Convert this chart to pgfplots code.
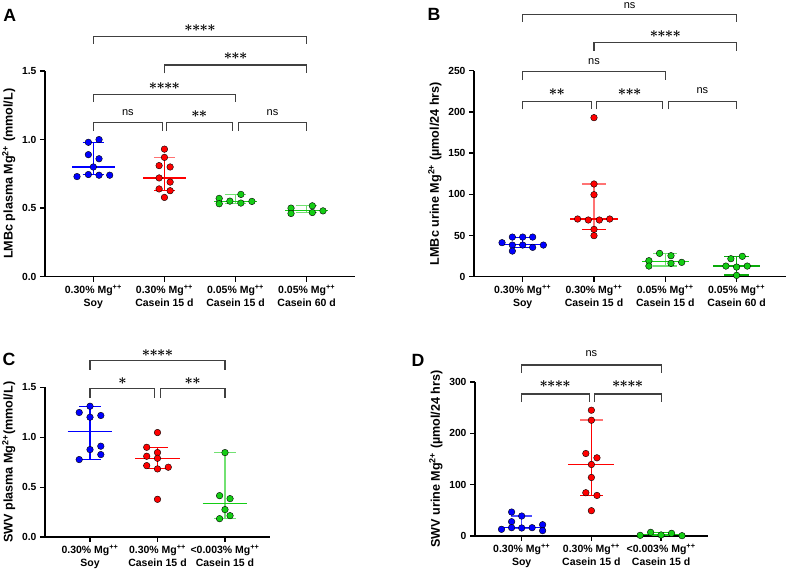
\documentclass[border=0pt]{standalone}
\usepackage{pgfplots}
\pgfplotsset{compat=1.18}
\usepackage{fontspec}
\setmainfont{Liberation Sans}

\definecolor{pblue}{RGB}{0,0,255}
\definecolor{pred}{RGB}{255,0,0}
\definecolor{pgreen}{RGB}{20,205,20}
\definecolor{pdgreen}{RGB}{10,170,10}

\newcommand{\as}{\makebox[7.6pt]{\fontsize{14}{14}\selectfont\boldmath$\ast$}}
\newcommand{\sone}{\as}
\newcommand{\stwo}{\as\as}
\newcommand{\sthree}{\as\as\as}
\newcommand{\sfour}{\as\as\as\as}
\newcommand{\mgpp}{Mg\textsuperscript{++}}

\pgfplotsset{
  prism/.style={
    scale only axis,
    anchor=south west,
    axis lines=left,
    axis line style={-, line width=1.6pt},
    tick style={black, line width=1.3pt},
    major tick length=5pt,
    tick align=outside,
    clip=false,
    ymin=0,
    unbounded coords=jump,
    xtick={0,1,2,3},
    xticklabel style={font=\bfseries\fontsize{10.5}{13}\selectfont, align=center},
    yticklabel style={font=\bfseries\fontsize{10.3}{11}\selectfont},
    /pgf/number format/assume math mode=true,
    ylabel style={font=\bfseries\fontsize{12.6}{13}\selectfont},
  },
  dots/.style={only marks, mark=*, mark size=3.3pt, draw=none, fill=#1, forget plot},
  summ/.style={draw=#1, line width=1.1pt, no marks, forget plot},
  brk/.style={black!75, line width=1.2pt, no marks, forget plot},
}
\tikzset{sig/.style={font=\fontsize{11}{11}\selectfont, inner sep=0pt}}

\begin{document}
\begin{tikzpicture}
\useasboundingbox (0,0) rectangle (787pt,569pt);

% ---------------- A
\begin{axis}[prism, at={(45pt,292.3pt)}, width=310pt, height=205.7pt,
  xmin=-0.68, xmax=3.68, ymax=1.5, ytick={0,0.5,1,1.5},
  yticklabel style={/pgf/number format/.cd, fixed, fixed zerofill, precision=1},
  xticklabels={{0.30\% \mgpp\\Soy},{0.30\% \mgpp\\Casein 15 d},{0.05\% \mgpp\\Casein 15 d},{0.05\% \mgpp\\Casein 60 d}},
  ylabel={LMBc plasma Mg\textsuperscript{2+} (mmol/L)}]
\addplot[dots=pblue] coordinates {(-0.07,0.98) (0.08,1.00) (-0.07,0.89) (0.08,0.86) (0,0.80) (-0.23,0.73) (-0.07,0.745) (0.08,0.74) (0.23,0.74)};
\addplot[summ=pblue] coordinates {(-0.3,0.80) (0.3,0.80) (nan,nan) (-0.15,0.745) (0.15,0.745) (nan,nan) (-0.15,0.98) (0.15,0.98) (nan,nan) (0,0.745) (0,0.98)};
\addplot[dots=pred] coordinates {(1,0.93) (1,0.87) (0.925,0.81) (1.08,0.80) (0.925,0.72) (1.08,0.69) (0.925,0.64) (1.08,0.627) (1,0.578)};
\addplot[summ=pred] coordinates {(0.7,0.72) (1.3,0.72) (nan,nan) (0.85,0.63) (1.15,0.63) (nan,nan) (1,0.63) (1,0.87)};
\addplot[summ=pred!55] coordinates {(0.85,0.87) (1.15,0.87)};
\addplot[dots=pgreen] coordinates {(1.77,0.571) (1.77,0.532) (1.92,0.551) (2.075,0.60) (2.075,0.537) (2.23,0.549)};
\addplot[summ=pgreen!60] coordinates {(1.85,0.535) (2.15,0.535) (nan,nan) (1.85,0.60) (2.15,0.60) (nan,nan) (2,0.535) (2,0.60)};
\addplot[summ=pgreen] coordinates {(1.7,0.55) (2.3,0.55)};
\addplot[dots=pgreen] coordinates {(2.78,0.50) (2.78,0.461) (3.08,0.517) (3.08,0.468) (3.23,0.48)};
\addplot[summ=pgreen!60] coordinates {(2.85,0.47) (3.15,0.47) (nan,nan) (2.85,0.52) (3.15,0.52) (nan,nan) (3,0.47) (3,0.52)};
\addplot[summ=pgreen] coordinates {(2.7,0.48) (3.3,0.48)};
% significance brackets
\addplot[brk] coordinates {(0,1.70) (0,1.75) (3,1.75) (3,1.70)};
\addplot[brk] coordinates {(1,1.483) (1,1.544) (3,1.544) (3,1.483)};
\addplot[brk] coordinates {(0,1.273) (0,1.329) (2,1.329) (2,1.273)};
\addplot[brk] coordinates {(0,1.061) (0,1.122) (0.97,1.122) (0.97,1.061)};
\addplot[brk] coordinates {(1.03,1.061) (1.03,1.122) (1.955,1.122) (1.955,1.061)};
\addplot[brk] coordinates {(2.04,1.061) (2.04,1.122) (3,1.122) (3,1.061)};
\node[sig] at (axis cs:1.5,1.815) {\sfour};
\node[sig] at (axis cs:2,1.607) {\sthree};
\node[sig] at (axis cs:1,1.392) {\sfour};
\node[sig] at (axis cs:0.485,1.195) {ns};
\node[sig] at (axis cs:1.49,1.185) {\stwo};
\node[sig] at (axis cs:2.52,1.195) {ns};
\end{axis}

% ---------------- B
\begin{axis}[prism, at={(474pt,292.3pt)}, width=312pt, height=206pt,
  xmin=-0.683, xmax=3.693, ymax=250, ytick={0,50,100,150,200,250},
  xticklabels={{0.30\% \mgpp\\Soy},{0.30\% \mgpp\\Casein 15 d},{0.05\% \mgpp\\Casein 15 d},{0.05\% \mgpp\\Casein 60 d}},
  ylabel={LMBc urine Mg\textsuperscript{2+} (µmol/24 hrs)}]
\addplot[dots=pblue] coordinates {(-0.29,41.3) (-0.145,48.1) (0,48.1) (0.14,48.1) (-0.145,38.4) (0,38.4) (0.14,35.6) (0.29,38.4) (-0.145,31.1)};
\addplot[summ=pblue] coordinates {(-0.33,39.0) (0.33,39.0) (nan,nan) (-0.15,35.8) (0.15,35.8) (nan,nan) (-0.15,48) (0.15,48) (nan,nan) (0,35.8) (0,48)};
\addplot[summ=pred!55] coordinates {(0.83,112.5) (1.17,112.5) (nan,nan) (1,57.4) (1,112.5)};
\addplot[dots=pred] coordinates {(1,193) (1,112.5) (1,99.5) (0.77,70) (0.92,68.8) (1.075,68.8) (1.22,70) (1,57.4) (1,49.8)};
\addplot[summ=pred] coordinates {(0.67,70) (1.33,70) (nan,nan) (0.83,57.4) (1.17,57.4)};
\addplot[summ=pgreen!60] coordinates {(1.83,13) (2.17,13) (nan,nan) (1.83,28) (2.17,28) (nan,nan) (2,13) (2,28)};
\addplot[dots=pgreen] coordinates {(1.92,28.3) (2.08,25.5) (1.77,19.4) (2.08,16.2) (2.23,17.4) (1.77,12.9)};
\addplot[summ=pgreen] coordinates {(1.67,18.5) (2.33,18.5)};
\addplot[summ=pdgreen] coordinates {(2.83,2) (3.17,2) (nan,nan) (2.83,24.5) (3.17,24.5) (nan,nan) (3,2) (3,24.5)};
\addplot[dots=pgreen] coordinates {(2.92,21.8) (3.08,24.7) (2.85,12.9) (3,11.7) (3.15,12.9) (3,1.6)};
\addplot[summ=pdgreen] coordinates {(2.67,13) (3.33,13)};
% significance brackets
\addplot[brk] coordinates {(0,309.5) (0,318.4) (3,318.4) (3,309.5)};
\addplot[brk] coordinates {(1,274) (1,284) (3,284) (3,274)};
\addplot[brk] coordinates {(0,238.7) (0,248.8) (2,248.8) (2,238.7)};
\addplot[brk] coordinates {(0,203) (0,212.4) (0.96,212.4) (0.96,203)};
\addplot[brk] coordinates {(1.04,203) (1.04,212.4) (1.96,212.4) (1.96,203)};
\addplot[brk] coordinates {(2.04,203) (2.04,212.4) (3,212.4) (3,203)};
\node[sig] at (axis cs:1.5,329) {ns};
\node[sig] at (axis cs:2,294) {\sfour};
\node[sig] at (axis cs:1,261) {ns};
\node[sig] at (axis cs:0.48,224) {\stwo};
\node[sig] at (axis cs:1.5,224) {\sthree};
\node[sig] at (axis cs:2.52,225.7) {ns};
\end{axis}

% ---------------- C
\begin{axis}[prism, at={(45pt,32pt)}, width=225pt, height=149.5pt,
  xmin=-0.667, xmax=2.667, ymax=1.5, ytick={0,0.5,1,1.5}, xtick={0,1,2},
  yticklabel style={/pgf/number format/.cd, fixed, fixed zerofill, precision=1},
  xticklabels={{0.30\% \mgpp\\Soy},{0.30\% \mgpp\\Casein 15 d},{<0.003\% \mgpp\\Casein 15 d}},
  ylabel={SWV plasma Mg\textsuperscript{2+}(mmol/L)}]
\addplot[dots=pblue] coordinates {(0,1.312) (-0.16,1.249) (0,1.202) (0.16,1.219) (0.16,0.911) (0,0.877) (0.16,0.827) (-0.16,0.777)};
\addplot[summ=pblue] coordinates {(-0.33,1.055) (0.33,1.055) (nan,nan) (-0.16,0.78) (0.16,0.78) (nan,nan) (-0.16,1.31) (0.16,1.31) (nan,nan) (0,0.78) (0,1.31)};
\addplot[dots=pred] coordinates {(1,1.048) (0.84,0.90) (1,0.847) (0.84,0.81) (1,0.79) (0.84,0.716) (1,0.683) (1.16,0.70) (1,0.378)};
\addplot[summ=pred] coordinates {(0.67,0.79) (1.33,0.79) (nan,nan) (0.84,0.69) (1.16,0.69) (nan,nan) (0.84,0.90) (1.16,0.90) (nan,nan) (1,0.69) (1,0.90)};
\addplot[summ=pgreen!60] coordinates {(1.84,0.19) (2.16,0.19) (nan,nan) (1.84,0.85) (2.16,0.85) (nan,nan) (2,0.19) (2,0.85)};
\addplot[dots=pgreen] coordinates {(2,0.847) (1.92,0.415) (2.075,0.385) (2,0.275) (1.92,0.184) (2.075,0.214)};
\addplot[summ=pgreen] coordinates {(1.67,0.335) (2.33,0.335)};
% significance brackets
\addplot[brk] coordinates {(0,1.677) (0,1.768) (2,1.768) (2,1.677)};
\addplot[brk] coordinates {(0,1.399) (0,1.486) (0.955,1.486) (0.955,1.399)};
\addplot[brk] coordinates {(1.04,1.399) (1.04,1.486) (2,1.486) (2,1.399)};
\node[sig] at (axis cs:1,1.85) {\sfour};
\node[sig] at (axis cs:0.48,1.56) {\sone};
\node[sig] at (axis cs:1.52,1.56) {\stwo};
\end{axis}

% ---------------- D
\begin{axis}[prism, at={(475pt,33pt)}, width=233pt, height=154pt,
  xmin=-0.67, xmax=2.673, ymax=300, ytick={0,100,200,300}, xtick={0,1,2},
  xticklabels={{0.30\% \mgpp\\Soy},{0.30\% \mgpp\\Casein 15 d},{<0.003\% \mgpp\\Casein 15 d}},
  ylabel={SWV urine Mg\textsuperscript{2+} (µmol/24 hrs)}]
\addplot[summ=pblue!70] coordinates {(-0.15,39) (0.15,39) (nan,nan) (-0.15,14.5) (0.15,14.5) (nan,nan) (0,14.5) (0,39)};
\addplot[dots=pblue] coordinates {(-0.145,46.7) (0,38.9) (-0.145,27.9) (-0.29,13) (-0.145,16.2) (0,15.6) (0.15,16.2) (0.3,22) (0.3,10.4)};
\addplot[summ=pblue] coordinates {(-0.33,16.5) (0.33,16.5)};
\addplot[summ=pred!55] coordinates {(0.84,226) (1.16,226)};
\addplot[dots=pred] coordinates {(1,245) (1,225.5) (0.92,160.7) (1.08,152.3) (1,139.3) (1,114) (0.92,84.3) (1.08,79) (1,49.3)};
\addplot[summ=pred] coordinates {(0.67,139.3) (1.33,139.3) (nan,nan) (0.84,79) (1.16,79) (nan,nan) (1,79) (1,226)};
\addplot[summ=pgreen] coordinates {(1.67,3) (2.33,3) (nan,nan) (1.85,1) (2.15,1) (nan,nan) (1.85,6) (2.15,6)};
\addplot[dots=pgreen] coordinates {(1.7,1.3) (1.85,7.1) (2,2) (2.15,5.2) (2.3,0.6)};
% significance brackets
\addplot[brk] coordinates {(0,318) (0,333) (2,333) (2,318)};
\addplot[brk] coordinates {(0,261) (0,276.7) (0.967,276.7) (0.967,261)};
\addplot[brk] coordinates {(1.04,261) (1.04,276.7) (2,276.7) (2,261)};
\node[sig] at (axis cs:1,355) {ns};
\node[sig] at (axis cs:0.48,295) {\sfour};
\node[sig] at (axis cs:1.52,295) {\sfour};
\end{axis}

\node[font=\bfseries\fontsize{17.7}{18}\selectfont] at (9.7pt,554pt) {A};
\node[font=\bfseries\fontsize{17.7}{18}\selectfont] at (434pt,555pt) {B};
\node[font=\bfseries\fontsize{17.7}{18}\selectfont] at (9pt,210pt) {C};
\node[font=\bfseries\fontsize{17.7}{18}\selectfont] at (418pt,209pt) {D};
\end{tikzpicture}
\end{document}
